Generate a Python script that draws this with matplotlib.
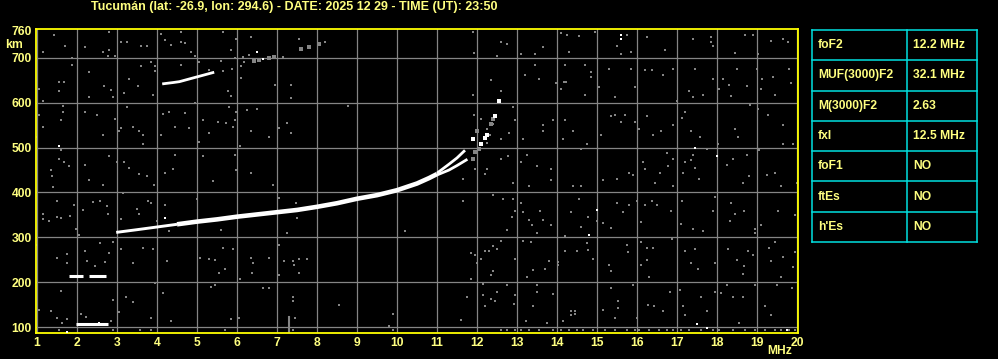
import matplotlib.pyplot as plt

# ionogram values (frequency MHz, virtual height km)
title = "Tucumán (lat: -26.9, lon: 294.6) - DATE: 2025 12 29 - TIME (UT): 23:50"
freq_ticks = list(range(1, 21))
height_ticks = [100, 200, 300, 400, 500, 600, 700, 760]
grid_heights = [100, 200, 300, 400, 500, 600, 700]

main_f = [2.98, 3.5, 4.0, 4.5, 5.0, 5.5, 6.0, 6.5, 7.0, 7.5, 8.0, 8.5, 9.0, 9.5, 10.0, 10.5, 10.8, 11.0]
main_h = [311, 317, 323, 329, 335, 340, 346, 351, 356, 361, 368, 376, 386, 394, 405, 420, 432, 441]
branch_o_f = [11.0, 11.3, 11.5, 11.7]
branch_o_h = [443, 463, 477, 494]
branch_x_f = [11.0, 11.3, 11.5, 11.76]
branch_x_h = [439, 450, 460, 474]
cusp_f = [11.91, 12.1, 12.2, 12.24, 12.44, 12.54]
cusp_h = [520, 507, 521, 529, 570, 605]
cusp_grey_f = [11.89, 11.95, 11.99, 12.06, 12.34, 12.41]
cusp_grey_h = [475, 490, 538, 496, 553, 564]

hop2_f = [4.13, 4.4, 4.56, 4.89, 5.14, 5.43]
hop2_h = [642, 645, 647, 655, 661, 668]
hop2_grey_f = [6.43, 6.56, 6.81, 6.93, 7.6, 7.81, 8.04]
hop2_grey_h = [692, 696, 699, 703, 720, 724, 731]

es_f = [[1.81, 2.14], [2.31, 2.73], [1.98, 2.77]]
es_h = [213, 213, 106]

bar_f = 7.29
bar_h = [90, 122]

noise_left = [
    (1.14, 714), (1.43, 750), (1.71, 727), (1.88, 699), (2.21, 724), (2.64, 714), (2.77, 705), (2.81, 718),
    (2.95, 705), (2.79, 758), (3.1, 735), (3.24, 735), (3.6, 727), (3.75, 726), (4.1, 753), (4.21, 739),
    (4.35, 729), (4.6, 735), (4.7, 733), (4.6, 758), (4.85, 713), (4.96, 705), (5.64, 758), (5.85, 718),
    (5.98, 741), (5.96, 699), (6.16, 701), (6.35, 746), (6.31, 707), (6.93, 701), (7.14, 701), (7.56, 741),
    (8.02, 729), (8.21, 736),
    (1.56, 647), (1.68, 646), (1.88, 684), (2.29, 668), (1.04, 631), (1.14, 605), (1.56, 627), (2.29, 612),
    (2.68, 638), (2.85, 629), (2.89, 612), (3.18, 622), (3.29, 653), (3.52, 638), (3.6, 681), (3.85, 690),
    (3.96, 681), (3.96, 670), (3.89, 618), (4.6, 684), (5.04, 690), (5.31, 672), (5.6, 694), (5.64, 670),
    (5.88, 675), (5.77, 627), (5.85, 616), (6.1, 681), (6.1, 655), (6.18, 690), (6.96, 640), (7.35, 640),
    (7.35, 610),
    (1.04, 573), (1.14, 546), (0.99, 524), (1.64, 592), (1.6, 561), (1.64, 579), (2.21, 579), (2.49, 572),
    (2.64, 529), (2.96, 564), (3.04, 536), (3.1, 544), (3.24, 590), (3.39, 546), (3.54, 538), (3.64, 529),
    (3.64, 507), (4.1, 529), (4.14, 575), (4.29, 579), (4.46, 546), (4.7, 578), (4.81, 544), (4.96, 600),
    (5.06, 512), (5.14, 561), (5.31, 533), (5.52, 557), (5.73, 555), (5.79, 590), (5.98, 579), (5.96, 561),
    (5.89, 546), (6.08, 504), (6.24, 583), (6.35, 538), (6.49, 587), (6.79, 524), (7.04, 544), (7.24, 555),
    (7.35, 533),
    (1.6, 494), (1.56, 474), (1.68, 469), (1.79, 459), (1.35, 450), (1.38, 437), (1.39, 413), (2.21, 461),
    (2.29, 427), (2.64, 416), (2.79, 481), (2.99, 468), (3.18, 467), (3.31, 455), (3.54, 442), (3.74, 437),
    (3.93, 416), (4.21, 444), (4.39, 453), (4.46, 484), (5.14, 481), (5.39, 425), (5.96, 484), (5.98, 450),
    (6.35, 444), (6.89, 416),
    (1.14, 353), (1.14, 341), (1.29, 336), (1.49, 381), (1.49, 346), (1.6, 344), (1.83, 348), (1.93, 373),
    (2.14, 361), (2.39, 378), (2.58, 381), (2.74, 370), (2.77, 351), (1.98, 318), (2.06, 305), (3.16, 398),
    (3.1, 341), (3.49, 364), (3.54, 353), (3.77, 381), (3.85, 376), (4.21, 372), (4.0, 336), (4.29, 314),
    (5.0, 385), (5.6, 316), (7.04, 387), (7.24, 309), (7.47, 376), (7.49, 344),
    (0.99, 283), (1.49, 255), (1.74, 262), (1.74, 242), (2.21, 270), (2.24, 247), (2.46, 237), (2.58, 287),
    (2.71, 246), (2.91, 290), (2.79, 264), (3.1, 274), (3.39, 242), (3.64, 277), (3.91, 274), (4.24, 247),
    (5.08, 255), (5.29, 252), (5.46, 250), (5.54, 220), (5.64, 277), (5.71, 230), (5.91, 274), (6.08, 207),
    (6.35, 255), (6.38, 220), (6.41, 242), (6.79, 255), (7.06, 283), (7.04, 215), (7.18, 247), (7.39, 247),
    (7.43, 238), (7.56, 252), (7.56, 220), (7.74, 252),
    (1.04, 138), (1.35, 136), (1.49, 120), (1.6, 181), (1.63, 109), (1.74, 118), (2.1, 129), (2.23, 123),
    (2.85, 114), (2.89, 161), (3.04, 133), (3.23, 168), (3.39, 155), (3.85, 120), (3.96, 198), (4.14, 175),
    (4.35, 113), (5.35, 190), (5.46, 194), (5.85, 118), (6.04, 120), (6.64, 188), (6.79, 188), (7.39, 168),
    (7.39, 157), (7.46, 121),
]

noise_mid = [
    (8.78, 592), (11.89, 758), (11.93, 710), (12.49, 704), (12.59, 736), (12.34, 650), (12.59, 627),
    (11.89, 618), (11.93, 573), (12.09, 564), (12.39, 553), (12.24, 542), (12.33, 527), (12.59, 520),
    (12.24, 511), (12.59, 475), (11.64, 431), (11.95, 453), (12.2, 442), (12.24, 453), (11.64, 381),
    (12.39, 394), (12.64, 385), (10.2, 314), (12.59, 292), (11.84, 264), (11.95, 261), (12.09, 252),
    (12.2, 270), (12.31, 270), (12.39, 281), (12.49, 274), (11.99, 242), (12.39, 225), (12.34, 216),
    (11.84, 207), (12.14, 196), (12.49, 179), (12.14, 172), (11.74, 168), (12.34, 163), (12.45, 157),
    (12.2, 148), (8.55, 150), (9.89, 129), (11.59, 116), (9.81, 103), (9.91, 94),
]

noise_right = [
    (12.74, 731), (13.09, 709), (13.45, 709), (13.64, 724), (14.1, 755), (14.24, 751), (14.55, 748),
    (14.3, 714), (14.95, 758), (15.49, 727), (15.6, 709), (15.74, 750), (15.85, 713), (16.24, 746),
    (16.7, 718), (17.39, 741), (17.84, 746), (17.84, 736), (17.89, 726), (18.45, 711), (18.7, 751),
    (18.9, 750), (19.03, 709), (19.34, 738), (19.66, 741), (19.78, 735),
    (13.45, 684), (13.2, 662), (13.56, 653), (13.98, 644), (14.17, 647), (14.22, 647), (14.1, 631),
    (14.2, 684), (14.7, 684), (14.84, 668), (14.84, 657), (15.05, 635), (14.7, 618), (15.3, 675),
    (15.45, 613), (15.85, 675), (15.95, 635), (16.2, 672), (16.37, 672), (16.66, 662), (16.91, 675),
    (16.99, 605), (17.31, 627), (17.41, 613), (17.45, 675), (17.66, 618), (17.91, 653), (18.06, 631),
    (18.16, 653), (18.31, 640), (18.34, 616), (18.51, 675), (18.74, 637), (18.99, 675), (19.12, 653),
    (19.1, 631), (19.41, 657), (19.45, 618), (19.81, 675), (19.84, 644),
    (12.91, 590), (12.95, 561), (12.81, 533), (13.16, 520), (13.64, 551), (13.64, 538), (13.91, 561),
    (14.2, 561), (14.39, 536), (14.14, 520), (14.74, 509), (15.1, 527), (15.35, 570), (15.45, 573),
    (15.7, 573), (15.6, 556), (15.95, 556), (16.05, 542), (16.24, 570), (16.39, 529), (16.6, 538),
    (16.91, 551), (17.12, 566), (17.2, 579), (17.34, 538), (17.58, 524), (18.03, 509), (18.45, 542),
    (18.53, 524), (18.83, 595), (19.03, 587), (19.28, 573), (19.64, 551), (19.66, 507), (19.91, 507),
    (12.78, 481), (13.09, 468), (13.24, 484), (13.49, 459), (13.84, 453), (13.84, 427), (13.31, 415),
    (12.91, 420), (14.39, 415), (14.59, 496), (14.59, 415), (15.14, 427), (15.49, 431), (15.81, 444),
    (15.89, 440), (16.16, 467), (16.2, 453), (16.45, 420), (16.58, 444), (16.74, 489), (16.89, 475),
    (16.78, 459), (16.91, 415), (17.16, 444), (17.2, 467), (17.34, 472), (17.41, 484), (17.45, 455),
    (17.56, 431), (17.74, 498), (18.24, 462), (18.39, 474), (18.64, 420), (18.74, 484), (18.79, 437),
    (19.06, 494), (19.24, 440), (19.45, 444), (19.6, 415), (19.99, 420),
    (12.64, 385), (12.89, 385), (13.09, 376), (13.14, 357), (12.95, 358), (12.87, 346), (12.74, 316),
    (13.31, 338), (13.37, 327), (13.58, 358), (13.64, 338), (13.49, 309), (13.86, 327), (14.2, 304),
    (14.35, 357), (14.56, 385), (14.6, 324), (14.78, 346), (14.99, 336), (15.16, 331), (15.35, 320),
    (15.49, 376), (15.66, 357), (15.81, 372), (15.99, 381), (16.09, 335), (16.2, 372), (16.37, 381),
    (16.49, 372), (16.85, 358), (17.12, 381), (17.1, 329), (17.39, 318), (17.64, 314), (17.91, 358),
    (17.95, 390), (18.34, 376), (18.45, 353), (18.33, 336), (18.68, 358), (19.09, 327), (18.95, 318),
    (18.95, 309), (19.53, 358), (19.95, 350),
    (12.95, 252), (13.14, 292), (13.34, 290), (13.39, 227), (13.26, 212), (13.7, 230), (13.81, 247),
    (14.03, 244), (14.03, 238), (14.2, 270), (14.49, 270), (14.76, 287), (14.89, 252), (14.78, 272),
    (15.31, 239), (15.35, 225), (15.74, 283), (15.78, 267), (16.1, 290), (16.24, 277), (16.39, 277),
    (16.24, 250), (16.1, 239), (16.3, 212), (16.87, 296), (17.2, 270), (17.45, 274), (17.34, 242),
    (17.53, 230), (17.95, 242), (18.28, 274), (18.49, 250), (18.68, 237), (18.78, 270), (18.91, 261),
    (18.66, 218), (19.31, 277), (19.45, 290), (19.34, 247), (19.64, 257), (19.6, 212), (19.91, 233),
    (19.95, 268),
    (12.76, 194), (12.95, 172), (12.93, 151), (13.23, 114), (13.49, 193), (13.49, 179), (13.39, 148),
    (13.74, 109), (13.89, 174), (14.16, 114), (14.34, 136), (14.45, 129), (14.34, 126), (14.45, 136),
    (15.16, 138), (15.35, 188), (15.53, 158), (15.53, 143), (15.45, 121), (15.89, 194), (15.99, 121),
    (16.28, 149), (16.43, 148), (16.66, 136), (16.82, 179), (17.08, 183), (17.14, 146), (17.2, 126),
    (17.59, 166), (17.74, 136), (17.95, 179), (18.09, 175), (18.24, 194), (18.39, 166), (18.64, 166),
    (18.56, 109), (18.95, 194), (19.2, 148), (19.34, 126), (19.49, 194), (19.87, 188),
]

noise_floor_f = [1.55, 2.9, 3.58, 3.86, 5.7, 7.4, 12.6, 12.75, 12.95, 13.1, 13.3, 13.55, 13.9, 14.1, 14.3,
                 14.5, 14.65, 14.9, 15.2, 15.45, 15.75, 15.95, 16.05, 16.3, 16.55, 16.75, 16.9, 17.1, 17.3,
                 17.6, 17.9, 18.05, 18.4, 18.7, 18.95, 19.2, 19.45, 19.6, 19.8, 19.95]
noise_floor_h = 93

white_spots = [(15.59, 750), (15.59, 741), (17.45, 499), (17.99, 481), (14.99, 362), (14.8, 305),
               (17.49, 106), (17.74, 98), (19.74, 94), (1.54, 504), (4.2, 344), (6.49, 713),
               (6.64, 698), (1.75, 90), (2.55, 110)]

table_rows = [
    ("foF2", "12.2 MHz"),
    ("MUF(3000)F2", "32.1 MHz"),
    ("M(3000)F2", "2.63"),
    ("fxI", "12.5 MHz"),
    ("foF1", "NO"),
    ("ftEs", "NO"),
    ("h'Es", "NO"),
]

plt.rcParams['font.family'] = ['Liberation Sans', 'DejaVu Sans']
text_yellow = '#ffff80'
grey = '#858585'

W, H = 998, 359
fig = plt.figure(figsize=(W / 100, H / 100), dpi=100, facecolor='black')
ax = fig.add_axes([36 / W, 26 / H, 762 / W, 304 / H])
ax.set_facecolor('black')
ax.set_xlim(0.975, 20.025)
ax.set_ylim(86.7, 764.4)

for f in freq_ticks:
    ax.axvline(f, color=grey, lw=0.9, zorder=1)
for h in grid_heights:
    ax.axhline(h, color=grey, lw=0.9, zorder=1)

# background noise pixels
for pts in (noise_left, noise_mid, noise_right):
    ax.plot([p[0] for p in pts], [p[1] for p in pts], 's', ms=2.1, mew=0, color=grey, zorder=2)
ax.plot(noise_floor_f, [noise_floor_h] * len(noise_floor_f), 's', ms=2.1, mew=0, color=grey, zorder=2)
ax.plot([bar_f, bar_f], bar_h, color=grey, lw=1.5, zorder=2)

# traces: thin near the start, thicker from 4.5 MHz on
ax.plot(main_f[:4], main_h[:4], color='white', lw=2.1, solid_capstyle='butt', zorder=4)
ax.plot(main_f[3:], main_h[3:], color='white', lw=3.3, solid_capstyle='butt', zorder=4)
ax.plot(branch_o_f, branch_o_h, color='white', lw=2.0, solid_capstyle='butt', zorder=4)
ax.plot(branch_x_f, branch_x_h, color='white', lw=2.0, solid_capstyle='butt', zorder=4)
ax.plot(cusp_grey_f, cusp_grey_h, 's', ms=2.2, mew=0, color=grey, zorder=3)
ax.plot(cusp_f, cusp_h, 's', ms=2.2, mew=0, color='white', zorder=4)
ax.plot(hop2_f, hop2_h, color='white', lw=2.0, solid_capstyle='butt', zorder=4)
ax.plot(hop2_grey_f, hop2_grey_h, 's', ms=2.4, mew=0, color=grey, zorder=3)
for fr, h in zip(es_f, es_h):
    ax.plot(fr, [h, h], color='white', lw=2.2, solid_capstyle='butt', zorder=4)
ax.plot([p[0] for p in white_spots], [p[1] for p in white_spots], 's', ms=2.0, mew=0, color='white', zorder=4)

for s in ax.spines.values():
    s.set_color('#ffff00')
    s.set_linewidth(1.3)
ax.set_xticks(freq_ticks)
ax.set_xticklabels([str(f) for f in freq_ticks])
ax.set_yticks(height_ticks)
ax.set_yticklabels([str(h) for h in height_ticks])
ax.tick_params(length=0, labelcolor=text_yellow, labelsize=8.7)
ax.tick_params(axis='x', pad=3)
ax.tick_params(axis='y', pad=3)
for lab in ax.get_xticklabels() + ax.get_yticklabels():
    lab.set_fontweight('bold')

fig.text(294 / W, 1 - 7 / H, title, ha='center', va='center', color=text_yellow, fontsize=9, fontweight='bold')
fig.text(14 / W, 1 - 45.5 / H, 'km', ha='center', va='center', color=text_yellow, fontsize=8.7, fontweight='bold')
fig.text(780 / W, 1 - 351 / H, 'MHz', ha='center', va='center', color=text_yellow, fontsize=8.7, fontweight='bold')

# parameter table
tax = fig.add_axes([812 / W, 1 - 242 / H, 165 / W, 212 / H])
tax.set_xlim(0, 1)
tax.set_ylim(0, len(table_rows))
tax.axis('off')
split = 95 / 165
cyan = '#00e0e0'
for i in range(len(table_rows) + 1):
    tax.plot([0, 1], [i, i], color=cyan, lw=1.1, clip_on=False)
for x in (0, split, 1):
    tax.plot([x, x], [0, len(table_rows)], color=cyan, lw=1.1, clip_on=False)
for i, (name, val) in enumerate(table_rows):
    y = len(table_rows) - i - 0.5
    tax.text(6 / 165, y, name, ha='left', va='center', color=text_yellow, fontsize=8.7, fontweight='bold')
    tax.text(split + 6 / 165, y, val, ha='left', va='center', color=text_yellow, fontsize=8.7, fontweight='bold')

fig.savefig('out.png', dpi=100, facecolor='black')
